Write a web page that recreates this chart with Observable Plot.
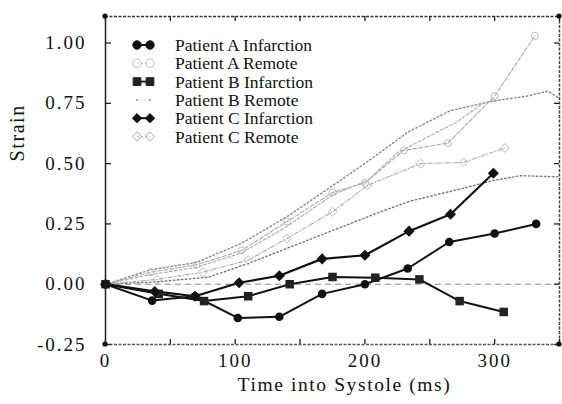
<!DOCTYPE html>
<html><head><meta charset="utf-8">
<script src="https://cdn.jsdelivr.net/npm/d3@7"></script>
<script src="https://cdn.jsdelivr.net/npm/@observablehq/plot@0.6"></script>
<style>
html,body{margin:0;padding:0;background:#fff;}
#chart svg{display:block;}
</style></head><body><div id="chart"></div>
<script>
// ---- data ----
const legendNames = ["Patient A Infarction","Patient A Remote","Patient B Infarction","Patient B Remote","Patient C Infarction","Patient C Remote"];

const timeAInf   = [0, 36, 69, 102, 134, 167, 200, 233, 265, 300, 332];
const strainAInf = [0, -0.068, -0.05, -0.14, -0.135, -0.04, 0.0, 0.065, 0.175, 0.21, 0.25];

const timeBInf   = [0, 41, 76, 110, 142, 175, 208, 242, 273, 307];
const strainBInf = [0, -0.04, -0.07, -0.05, 0.0, 0.03, 0.027, 0.02, -0.07, -0.115];

const timeCInf   = [0, 38, 69, 103, 134, 167, 200, 234, 266, 299];
const strainCInf = [0, -0.03, -0.05, 0.006, 0.035, 0.105, 0.12, 0.22, 0.29, 0.46];

const timeARem   = [0, 35, 70, 105, 140, 175, 200, 230, 264, 300, 331];
const strainARem = [0, 0.05, 0.08, 0.14, 0.26, 0.38, 0.42, 0.555, 0.585, 0.78, 1.03];

const timeBRem   = [0, 35, 70, 105, 140, 181, 205, 233, 266, 299, 325, 341, 350];
const strainBRem = [0, 0.06, 0.09, 0.17, 0.28, 0.43, 0.52, 0.63, 0.72, 0.76, 0.78, 0.80, 0.77];

const timeCRem   = [0, 40, 75, 110, 140, 175, 202, 243, 276, 308];
const strainCRem = [0, 0.02, 0.05, 0.10, 0.19, 0.30, 0.41, 0.50, 0.505, 0.565];

// two further grey traces visible in the figure without legend entries
const timeExtra1   = [0, 35, 70, 105, 140, 175, 202, 225, 243, 270, 291, 300];
const strainExtra1 = [0, 0.04, 0.07, 0.13, 0.24, 0.37, 0.43, 0.545, 0.595, 0.67, 0.75, 0.76];
const timeExtra2   = [0, 40, 80, 112, 150, 212, 235, 270, 299, 320, 350];
const strainExtra2 = [0, 0.01, 0.03, 0.09, 0.17, 0.30, 0.345, 0.39, 0.43, 0.45, 0.445];

const xTicks = [0, 100, 200, 300];
const xMinorTicks = [0, 50, 100, 150, 200, 250, 300, 350];
const yTicks = [-0.25, 0, 0.25, 0.5, 0.75, 1.0];

const xLabel = "Time into Systole (ms)";
const yLabel = "Strain";

// ---- build tables ----
const toRows = (name, ts, ss) => ts.map((t, i) => ({name, t, s: ss[i]}));
const aInf = toRows(legendNames[0], timeAInf, strainAInf);
const aRem = toRows(legendNames[1], timeARem, strainARem);
const bInf = toRows(legendNames[2], timeBInf, strainBInf);
const bRem = toRows(legendNames[3], timeBRem, strainBRem);
const cInf = toRows(legendNames[4], timeCInf, strainCInf);
const cRem = toRows(legendNames[5], timeCRem, strainCRem);
const ex1 = toRows("extra1", timeExtra1, strainExtra1);
const ex2 = toRows("extra2", timeExtra2, strainExtra2);

const W = 562, H = 404, mL = 105, mR = 3, mT = 16, mB = 60;
const fw = W - mL - mR, fh = H - mT - mB;
const serif = "'Liberation Serif','Times New Roman',serif";
const fmtY = d => d3.format(".2f")(d).replace("\u2212", "-");

const chart = Plot.plot({
  width: W, height: H,
  marginLeft: mL, marginRight: mR, marginTop: mT, marginBottom: mB,
  style: {fontFamily: serif, background: "#fff", color: "#111"},
  x: {domain: [0, 350]},
  y: {domain: [-0.25, 1.11]},
  marks: [
    // zero reference
    Plot.ruleY([0], {stroke: "#888", strokeWidth: 1, strokeDasharray: "6,4"}),
    // remote traces
    Plot.line(bRem, {x: "t", y: "s", stroke: "#888", strokeWidth: 1.4, strokeDasharray: "1.5,2.5"}),
    Plot.line(ex2, {x: "t", y: "s", stroke: "#777", strokeWidth: 1.4, strokeDasharray: "1.5,2.5"}),
    Plot.line(aRem, {x: "t", y: "s", stroke: "#aaa", strokeWidth: 1.1, strokeDasharray: "4,2"}),
    Plot.line(ex1, {x: "t", y: "s", stroke: "#aaa", strokeWidth: 1.1, strokeDasharray: "3,2"}),
    Plot.line(cRem, {x: "t", y: "s", stroke: "#aaa", strokeWidth: 1.1, strokeDasharray: "4,2,1,2"}),
    Plot.dot(aRem, {x: "t", y: "s", r: 3.5, stroke: "#bbb", fill: "none", strokeWidth: 1}),
    Plot.dot(cRem, {x: "t", y: "s", r: 4, symbol: "diamond2", stroke: "#bbb", fill: "none", strokeWidth: 1}),
    // infarction traces
    Plot.line(aInf, {x: "t", y: "s", stroke: "#111", strokeWidth: 2}),
    Plot.line(bInf, {x: "t", y: "s", stroke: "#111", strokeWidth: 2}),
    Plot.line(cInf, {x: "t", y: "s", stroke: "#111", strokeWidth: 2.2}),
    Plot.dot(aInf, {x: "t", y: "s", r: 4.3, fill: "#111"}),
    Plot.dot(bInf, {x: "t", y: "s", r: 4.8, symbol: "square", fill: "#222"}),
    Plot.dot(cInf, {x: "t", y: "s", r: 5, symbol: "diamond2", fill: "#111"}),
    // frame
    Plot.ruleX([0], {stroke: "#222", strokeWidth: 1.5}),
    Plot.ruleX([350], {stroke: "#444", strokeWidth: 1.5, strokeDasharray: "3,1.5"}),
    Plot.ruleY([-0.25], {stroke: "#555", strokeWidth: 1.4, strokeDasharray: "3,1.5"}),
    Plot.ruleY([1.11], {stroke: "#333", strokeWidth: 1.5, strokeDasharray: "3,1.5"}),
    // inward ticks
    Plot.tickY(yTicks, {y: d => d, stroke: "#222", strokeWidth: 1.3, insetRight: fw - 6}),
    Plot.tickY(yTicks, {y: d => d, stroke: "#222", strokeWidth: 1.3, insetLeft: fw - 5}),
    Plot.tickX(xMinorTicks, {x: d => d, stroke: "#222", strokeWidth: 1.3, insetTop: fh - 5}),
    Plot.tickX(xMinorTicks, {x: d => d, stroke: "#222", strokeWidth: 1.3, insetBottom: fh - 5}),
    // tick labels
    Plot.axisX({ticks: xTicks, tickSize: 0, tickPadding: 9, tickFormat: d3.format("d"), fontSize: 19, label: null}),
    Plot.axisY({ticks: yTicks, tickSize: 0, tickPadding: 19, tickFormat: fmtY, fontSize: 19, label: null}),
    // axis titles
    Plot.text([xLabel], {frameAnchor: "bottom", dx: 12, dy: 46, fontSize: 19.5, fill: "#111"}),
    Plot.text([yLabel], {frameAnchor: "left", rotate: -90, dx: -88, dy: -19, fontSize: 20, fill: "#111"})
  ]
});

const svg = d3.select(chart);
svg.selectAll("[aria-label='x-axis tick label'] text, [aria-label='y-axis tick label'] text")
  .style("letter-spacing", "2px");
svg.selectAll("[aria-label='text'] text").style("letter-spacing", "1.6px");

// corner dots of the frame
const sx = chart.scale("x"), sy = chart.scale("y");
const corners = [[0, -0.25], [350, -0.25], [0, 1.11], [350, 1.11]];
svg.append("g").selectAll("circle").data(corners).join("circle")
  .attr("cx", d => sx.apply(d[0])).attr("cy", d => sy.apply(d[1])).attr("r", 2.6).attr("fill", "#111");

// legend
const legendStyles = [
  {sym: "circle", fill: "#111", stroke: "#111", line: "#111", dash: null},
  {sym: "circle", fill: "none", stroke: "#bbb", line: "#ccc", dash: "2,2"},
  {sym: "square", fill: "#222", stroke: "#222", line: "#222", dash: null},
  {sym: "dot", fill: "#aaa", stroke: "none", line: "#ccc", dash: "1.5,2"},
  {sym: "diamond", fill: "#111", stroke: "#111", line: "#111", dash: null},
  {sym: "diamond", fill: "none", stroke: "#aaa", line: "#bbb", dash: "2,2"}
];
const lg = svg.append("g").attr("font-family", serif).attr("font-size", 17.5).attr("text-anchor", "start");
legendNames.forEach((name, i) => {
  const y = 45 + i * 18.3;
  const st = legendStyles[i];
  const g = lg.append("g");
  g.append("line").attr("x1", 137).attr("x2", 150).attr("y1", y).attr("y2", y)
    .attr("stroke", st.line).attr("stroke-width", st.fill === "none" || st.sym === "dot" ? 1 : 2)
    .attr("stroke-dasharray", st.dash);
  [137, 150].forEach(cx => {
    let sym;
    if (st.sym === "circle") sym = d3.symbol(d3.symbolCircle, 55);
    else if (st.sym === "square") sym = d3.symbol(d3.symbolSquare, 60);
    else if (st.sym === "diamond") sym = d3.symbol(d3.symbolDiamond2, 55);
    else sym = d3.symbol(d3.symbolCircle, 4);
    g.append("path").attr("d", sym()).attr("transform", `translate(${cx},${y})`)
      .attr("fill", st.fill).attr("stroke", st.stroke).attr("stroke-width", 1);
  });
  g.append("text").attr("x", 175).attr("y", y).attr("dy", "0.35em").attr("text-anchor", "start")
    .attr("fill", "#111").text(name);
});

document.getElementById("chart").appendChild(chart);
</script>
</body></html>
